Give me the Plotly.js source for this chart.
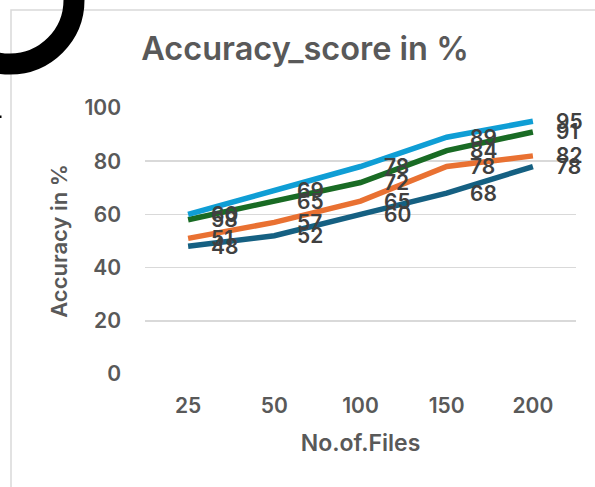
<!DOCTYPE html>
<html>
<head>
<meta charset="utf-8">
<script src="https://cdn.plot.ly/plotly-3.0.1.min.js"></script>
<style>
  html, body { margin: 0; padding: 0; background: #ffffff; }
  #chart { width: 595px; height: 487px; }
</style>
</head>
<body>
<div id="chart"></div>
<script>
// ---- data ----
const categories = ['25', '50', '100', '150', '200'];
const seriesNames = ['Series1', 'Series2', 'Series3', 'Series4'];
const darkBlueValues  = [48, 52, 60, 68, 78];
const orangeValues    = [51, 57, 65, 78, 82];
const greenValues     = [58, 65, 72, 84, 91];
const lightBlueValues = [60, 69, 78, 89, 95];
const yTickValues = [0, 20, 40, 60, 80, 100];

const allValues = [darkBlueValues, orangeValues, greenValues, lightBlueValues];
const colors = ['#156082', '#E97132', '#196B24', '#0F9ED5'];

// ---- layout geometry (pixels) ----
const W = 595, H = 487;
const L = 145, R = 576, T = 108, B = 374;
const pw = R - L, ph = B - T;
const px = v => (v - L) / pw;
const py = v => (B - v) / ph;

const FONT = 'Inter, "Liberation Sans", sans-serif';
const WEIGHT = 600;

const traces = allValues.map((vals, i) => ({
  type: 'scatter',
  mode: 'lines',
  name: seriesNames[i],
  x: categories,
  y: vals,
  line: { color: colors[i], width: 5.5, shape: 'linear' },
  hoverinfo: 'x+y'
}));

const annotations = [];
allValues.forEach(vals => {
  vals.forEach((v, j) => {
    annotations.push({
      x: j, y: v, xref: 'x', yref: 'y',
      text: String(v), showarrow: false,
      xanchor: 'left', yanchor: 'middle', xshift: 21,
      font: { family: FONT, size: 21, color: '#404040', weight: WEIGHT }
    });
  });
});

const shapes = [
  // chart area border
  { type: 'rect', xref: 'paper', yref: 'paper',
    x0: px(11), x1: px(640), y0: py(540), y1: py(10),
    line: { color: '#d9d9d9', width: 1.5 }, fillcolor: 'rgba(0,0,0,0)', layer: 'below' },
  // black ring decoration top-left
  { type: 'circle', xref: 'paper', yref: 'paper',
    x0: px(10 - 64), x1: px(10 + 64), y0: py(0 + 64), y1: py(0 - 64),
    line: { color: '#000000', width: 21 }, fillcolor: 'rgba(0,0,0,0)', layer: 'above' },
  // small dot at left edge
  { type: 'rect', xref: 'paper', yref: 'paper',
    x0: px(-1), x1: px(1.5), y0: py(118), y1: py(115.5),
    line: { width: 0 }, fillcolor: '#000000' }
];

const layout = {
  width: W, height: H,
  margin: { l: L, r: W - R, t: T, b: H - B, pad: 0 },
  paper_bgcolor: '#ffffff',
  plot_bgcolor: '#ffffff',
  showlegend: false,
  title: {
    text: 'Accuracy_score in %',
    font: { family: FONT, size: 32.5, color: '#595959', weight: WEIGHT },
    x: 305 / W, xref: 'container', xanchor: 'center',
    y: 1 - 49 / H, yref: 'container', yanchor: 'middle'
  },
  xaxis: {
    type: 'category',
    categoryorder: 'array', categoryarray: categories,
    range: [-0.5, categories.length - 0.5], autorange: false,
    showgrid: false, zeroline: false, showline: false,
    ticks: '', ticklabelstandoff: 17,
    tickfont: { family: FONT, size: 21, color: '#595959', weight: WEIGHT },
    title: { text: 'No.of.Files', standoff: 17,
      font: { family: FONT, size: 23, color: '#595959', weight: WEIGHT } }
  },
  yaxis: {
    range: [0, 100], autorange: false, tickvals: yTickValues, ticktext: yTickValues.map(String),
    showgrid: true, gridcolor: '#d9d9d9', gridwidth: 1.5,
    zeroline: false, showline: false, ticks: '', ticklabelstandoff: 23,
    tickfont: { family: FONT, size: 21, color: '#595959', weight: WEIGHT },
    title: { text: 'Accuracy in %', standoff: 10,
      font: { family: FONT, size: 22, color: '#595959', weight: WEIGHT } }
  },
  annotations: annotations,
  shapes: shapes
};

Plotly.newPlot('chart', traces, layout, { displayModeBar: false, staticPlot: true });
</script>
</body>
</html>
